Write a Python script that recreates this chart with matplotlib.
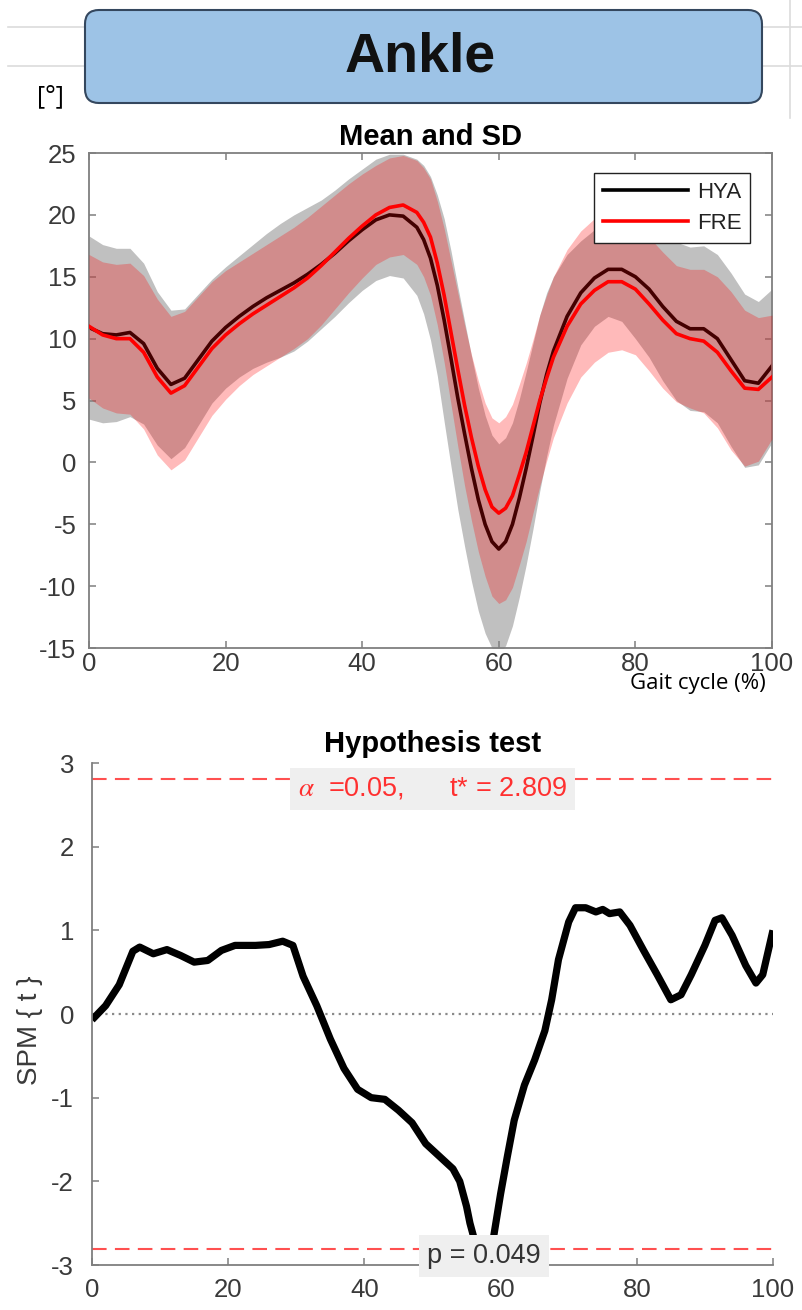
import numpy as np
import matplotlib
matplotlib.use("Agg")
import matplotlib.pyplot as plt
from matplotlib.patches import FancyBboxPatch

plt.rcParams['font.family'] = ['Liberation Sans', 'DejaVu Sans']
plt.rcParams['mathtext.fontset'] = 'stix'
plt.rcParams['axes.unicode_minus'] = False

# ---- data: mean and SD of ankle angle over the gait cycle ----
gait = [0, 2, 4, 6, 8, 10, 12, 14, 16, 18, 20, 22, 24, 26, 28, 30, 32, 34,
        36, 38, 40, 42, 44, 46, 48, 49, 50, 51, 52, 53, 54, 55, 56, 57, 58,
        59, 60, 61, 62, 63, 64, 65, 66, 67, 68, 70, 72, 74, 76, 78, 80, 82,
        84, 86, 88, 90, 92, 94, 96, 98, 100]

hya_mean = [10.9, 10.4, 10.3, 10.5, 9.6, 7.6, 6.3, 6.8, 8.3, 9.8,
            10.9, 11.8, 12.6, 13.3, 13.9, 14.5, 15.2, 16.0, 16.9, 17.9,
            18.8, 19.6, 20.0, 19.9, 19.0, 18.0, 16.5, 14.3, 11.5, 8.4,
            5.2, 2.3, -0.5, -3.0, -5.0, -6.4, -7.0, -6.4, -5.0, -2.9,
            -0.5, 2.1, 4.8, 7.1, 9.0, 11.8, 13.7, 14.9, 15.6, 15.6,
            15.0, 14.0, 12.6, 11.4, 10.8, 10.8, 10.0, 8.3, 6.6, 6.4, 7.8]
hya_sd = [7.4, 7.2, 7.0, 6.8, 6.5, 6.2, 6.0, 5.6, 5.3, 5.0,
          4.9, 4.9, 5.0, 5.2, 5.4, 5.5, 5.4, 5.2, 5.1, 5.0,
          4.9, 4.9, 4.9, 5.0, 5.5, 6.0, 6.6, 7.3, 8.2, 8.7,
          9.0, 9.1, 9.1, 9.0, 8.8, 8.6, 8.5, 8.4, 8.2, 8.0,
          7.8, 7.5, 7.1, 6.6, 6.0, 5.0, 4.2, 3.9, 3.8, 4.2,
          5.0, 5.5, 6.0, 6.4, 6.6, 6.7, 6.8, 7.0, 7.0, 6.6, 6.2]

fre_mean = [11.0, 10.3, 10.0, 10.0, 8.9, 6.9, 5.6, 6.2, 7.7, 9.2,
            10.3, 11.2, 12.0, 12.7, 13.4, 14.1, 14.9, 15.9, 17.0, 18.1,
            19.1, 20.0, 20.6, 20.8, 20.2, 19.4, 18.2, 16.1, 13.5, 10.5,
            7.5, 4.6, 2.0, -0.3, -2.2, -3.6, -4.1, -3.7, -2.7, -1.0,
            0.8, 2.9, 5.0, 6.8, 8.5, 11.0, 12.8, 13.9, 14.6, 14.6,
            14.0, 12.8, 11.5, 10.4, 10.0, 9.8, 8.9, 7.4, 6.0, 5.9, 6.9]
fre_sd = [5.8, 5.9, 6.0, 6.1, 6.2, 6.3, 6.2, 6.0, 5.7, 5.4,
          5.2, 5.0, 4.9, 4.9, 4.9, 4.9, 4.9, 4.8, 4.6, 4.4,
          4.2, 4.0, 4.0, 4.0, 4.2, 4.4, 4.7, 5.0, 5.4, 5.8,
          6.2, 6.5, 6.7, 6.9, 7.0, 7.2, 7.3, 7.4, 7.4, 7.3,
          7.2, 7.0, 6.9, 6.7, 6.5, 6.2, 5.9, 5.8, 5.7, 5.5,
          5.3, 5.4, 5.5, 5.5, 5.6, 5.8, 6.1, 6.4, 6.3, 5.8, 5.0]

# ---- data: SPM{t} curve ----
spm_x = [0, 2, 4, 6, 7, 9, 11, 13, 15, 17, 19, 21, 24, 26, 28, 29.5, 31, 33,
         35, 37, 39, 41, 43, 45, 47, 49, 51, 53, 54, 55, 55.5, 56.5, 57.5,
         58.5, 59.3, 60, 61, 62, 63.5, 65, 66.5, 67.5, 68.5, 70, 71, 72.5,
         74, 75, 76, 77.5, 79, 81, 83, 85, 86.5, 88, 90, 91.5, 92.5, 94, 96,
         97.5, 98.5, 100]
spm_t = [-0.07, 0.1, 0.35, 0.75, 0.8, 0.72, 0.77, 0.7, 0.62, 0.64, 0.76, 0.82,
         0.82, 0.83, 0.87, 0.82, 0.45, 0.1, -0.3, -0.65, -0.9, -1.0, -1.02,
         -1.15, -1.3, -1.55, -1.7, -1.85, -2.0, -2.3, -2.5, -2.8, -2.95,
         -2.9, -2.5, -2.15, -1.7, -1.27, -0.85, -0.55, -0.2, 0.17, 0.65, 1.1,
         1.27, 1.27, 1.22, 1.25, 1.2, 1.22, 1.06, 0.76, 0.47, 0.17, 0.23,
         0.47, 0.82, 1.12, 1.15, 0.94, 0.58, 0.37, 0.47, 1.0]
t_crit = 2.809
alpha = 0.05
p_val = 0.049

gait = np.array(gait)
hya_mean = np.array(hya_mean)
hya_sd = np.array(hya_sd)
fre_mean = np.array(fre_mean)
fre_sd = np.array(fre_sd)

tick_col = '#3a3a3a'
spine_col = '#7f7f7f'

fig = plt.figure(figsize=(8.03, 13.10), dpi=100)

# header / background drawn in pixel coords
bg = fig.add_axes([0, 0, 1, 1], zorder=-1)
bg.set_xlim(0, 803)
bg.set_ylim(1310, 0)
bg.axis('off')
for yy in (27, 66):
    bg.plot([8, 803], [yy, yy], color='#dcdcdc', lw=1.2, zorder=0)
bg.plot([790, 790], [0, 118], color='#dcdcdc', lw=1.2, zorder=0)
box = FancyBboxPatch((85, 10), 677, 93,
                     boxstyle='round,pad=0,rounding_size=14',
                     fc='#9dc3e6', ec='#34475e', lw=1.5, zorder=2)
bg.add_patch(box)
bg.text(420, 58, 'Ankle', ha='center', va='center', fontsize=40,
        fontweight='bold', color='#111111', zorder=3)
bg.text(50, 97, '[°]', ha='center', va='center', fontsize=18,
        family=['Open Sans', 'DejaVu Sans'], color='black')
bg.text(698, 684, 'Gait cycle (%)', ha='center', va='center', fontsize=16,
        family=['Open Sans', 'DejaVu Sans'], color='black')


def style(ax, full_box, xpad, ypad):
    for side, sp in ax.spines.items():
        sp.set_color(spine_col)
        sp.set_linewidth(1.3)
    if not full_box:
        ax.spines['top'].set_visible(False)
        ax.spines['right'].set_visible(False)
    ax.tick_params(direction='in', length=5, width=1.1, color=spine_col,
                   labelsize=18.5, labelcolor=tick_col,
                   top=full_box, right=full_box)
    ax.tick_params(axis='y', pad=ypad)
    ax.tick_params(axis='x', pad=xpad)


# ---- top panel: mean and SD ----
ax1 = fig.add_axes([0.1108, 0.5053, 0.8506, 0.3779])
ax1.fill_between(gait, hya_mean - hya_sd, hya_mean + hya_sd,
                 color='#c0c0c0', lw=0, zorder=1)
ax1.plot(gait, hya_mean, color='black', lw=2.6, zorder=2, label='HYA',
         solid_joinstyle='round')
ax1.fill_between(gait, fre_mean - fre_sd, fre_mean + fre_sd,
                 color='#ff0000', alpha=0.27, lw=0, zorder=3)
ax1.plot(gait, fre_mean, color='#ff0000', lw=2.6, zorder=4, label='FRE',
         solid_joinstyle='round')
ax1.set_xlim(0, 100)
ax1.set_ylim(-15, 25)
ax1.set_xticks(range(0, 101, 20))
ax1.set_yticks(range(-15, 26, 5))
style(ax1, True, 3, 9)
ax1.set_title('Mean and SD', fontsize=21, fontweight='bold', pad=6)
leg = ax1.legend(loc='upper right', bbox_to_anchor=(0.968, 0.96),
                 borderaxespad=0, fontsize=16, frameon=True, fancybox=False,
                 handlelength=3.8, handletextpad=0.4, labelspacing=0.45,
                 borderpad=0.4)
leg.get_frame().set_edgecolor('#222222')
leg.get_frame().set_linewidth(1.0)
leg.get_frame().set_alpha(1)
for txt in leg.get_texts():
    txt.set_color('#222222')

# ---- bottom panel: hypothesis test ----
ax2 = fig.add_axes([0.1146, 0.03435, 0.848, 0.3832])
ax2.plot([0, 100], [0, 0], color='#8a8a8a', lw=1.6, ls=(0, (1, 2)), zorder=1)
ax2.plot([0, 100], [t_crit, t_crit], color='#ff5050', lw=1.5,
         dashes=(7, 4), zorder=1)
ax2.plot([0, 100], [-t_crit, -t_crit], color='#ff5050', lw=1.5,
         dashes=(7, 4), zorder=1)
ax2.plot(spm_x, spm_t, color='black', lw=5.2, solid_capstyle='butt',
         solid_joinstyle='round', zorder=2)
ax2.set_xlim(0, 100)
ax2.set_ylim(-3, 3)
ax2.set_xticks(range(0, 101, 20))
ax2.set_yticks(range(-3, 4))
style(ax2, False, 9, 13)
ax2.set_title('Hypothesis test', fontsize=21, fontweight='bold', pad=8)
ax2.set_ylabel('SPM { t }', fontsize=20, color=tick_col)
ax2.yaxis.set_label_coords(-0.072, 0.468)

ax2.text(50, 2.69, r'$\alpha$  =0.05,      t* = %.3f' % t_crit,
         ha='center', va='center', fontsize=19.5, color='#ff3030', zorder=5,
         bbox=dict(boxstyle='square,pad=0.3', fc='#efefef', ec='none'))
ax2.text(57.6, -2.89, 'p = %.3f' % p_val, ha='center', va='center',
         fontsize=19.5, color='#333333', zorder=5,
         bbox=dict(boxstyle='square,pad=0.3', fc='#efefef', ec='none'))

fig.savefig('out.png', dpi=100)
